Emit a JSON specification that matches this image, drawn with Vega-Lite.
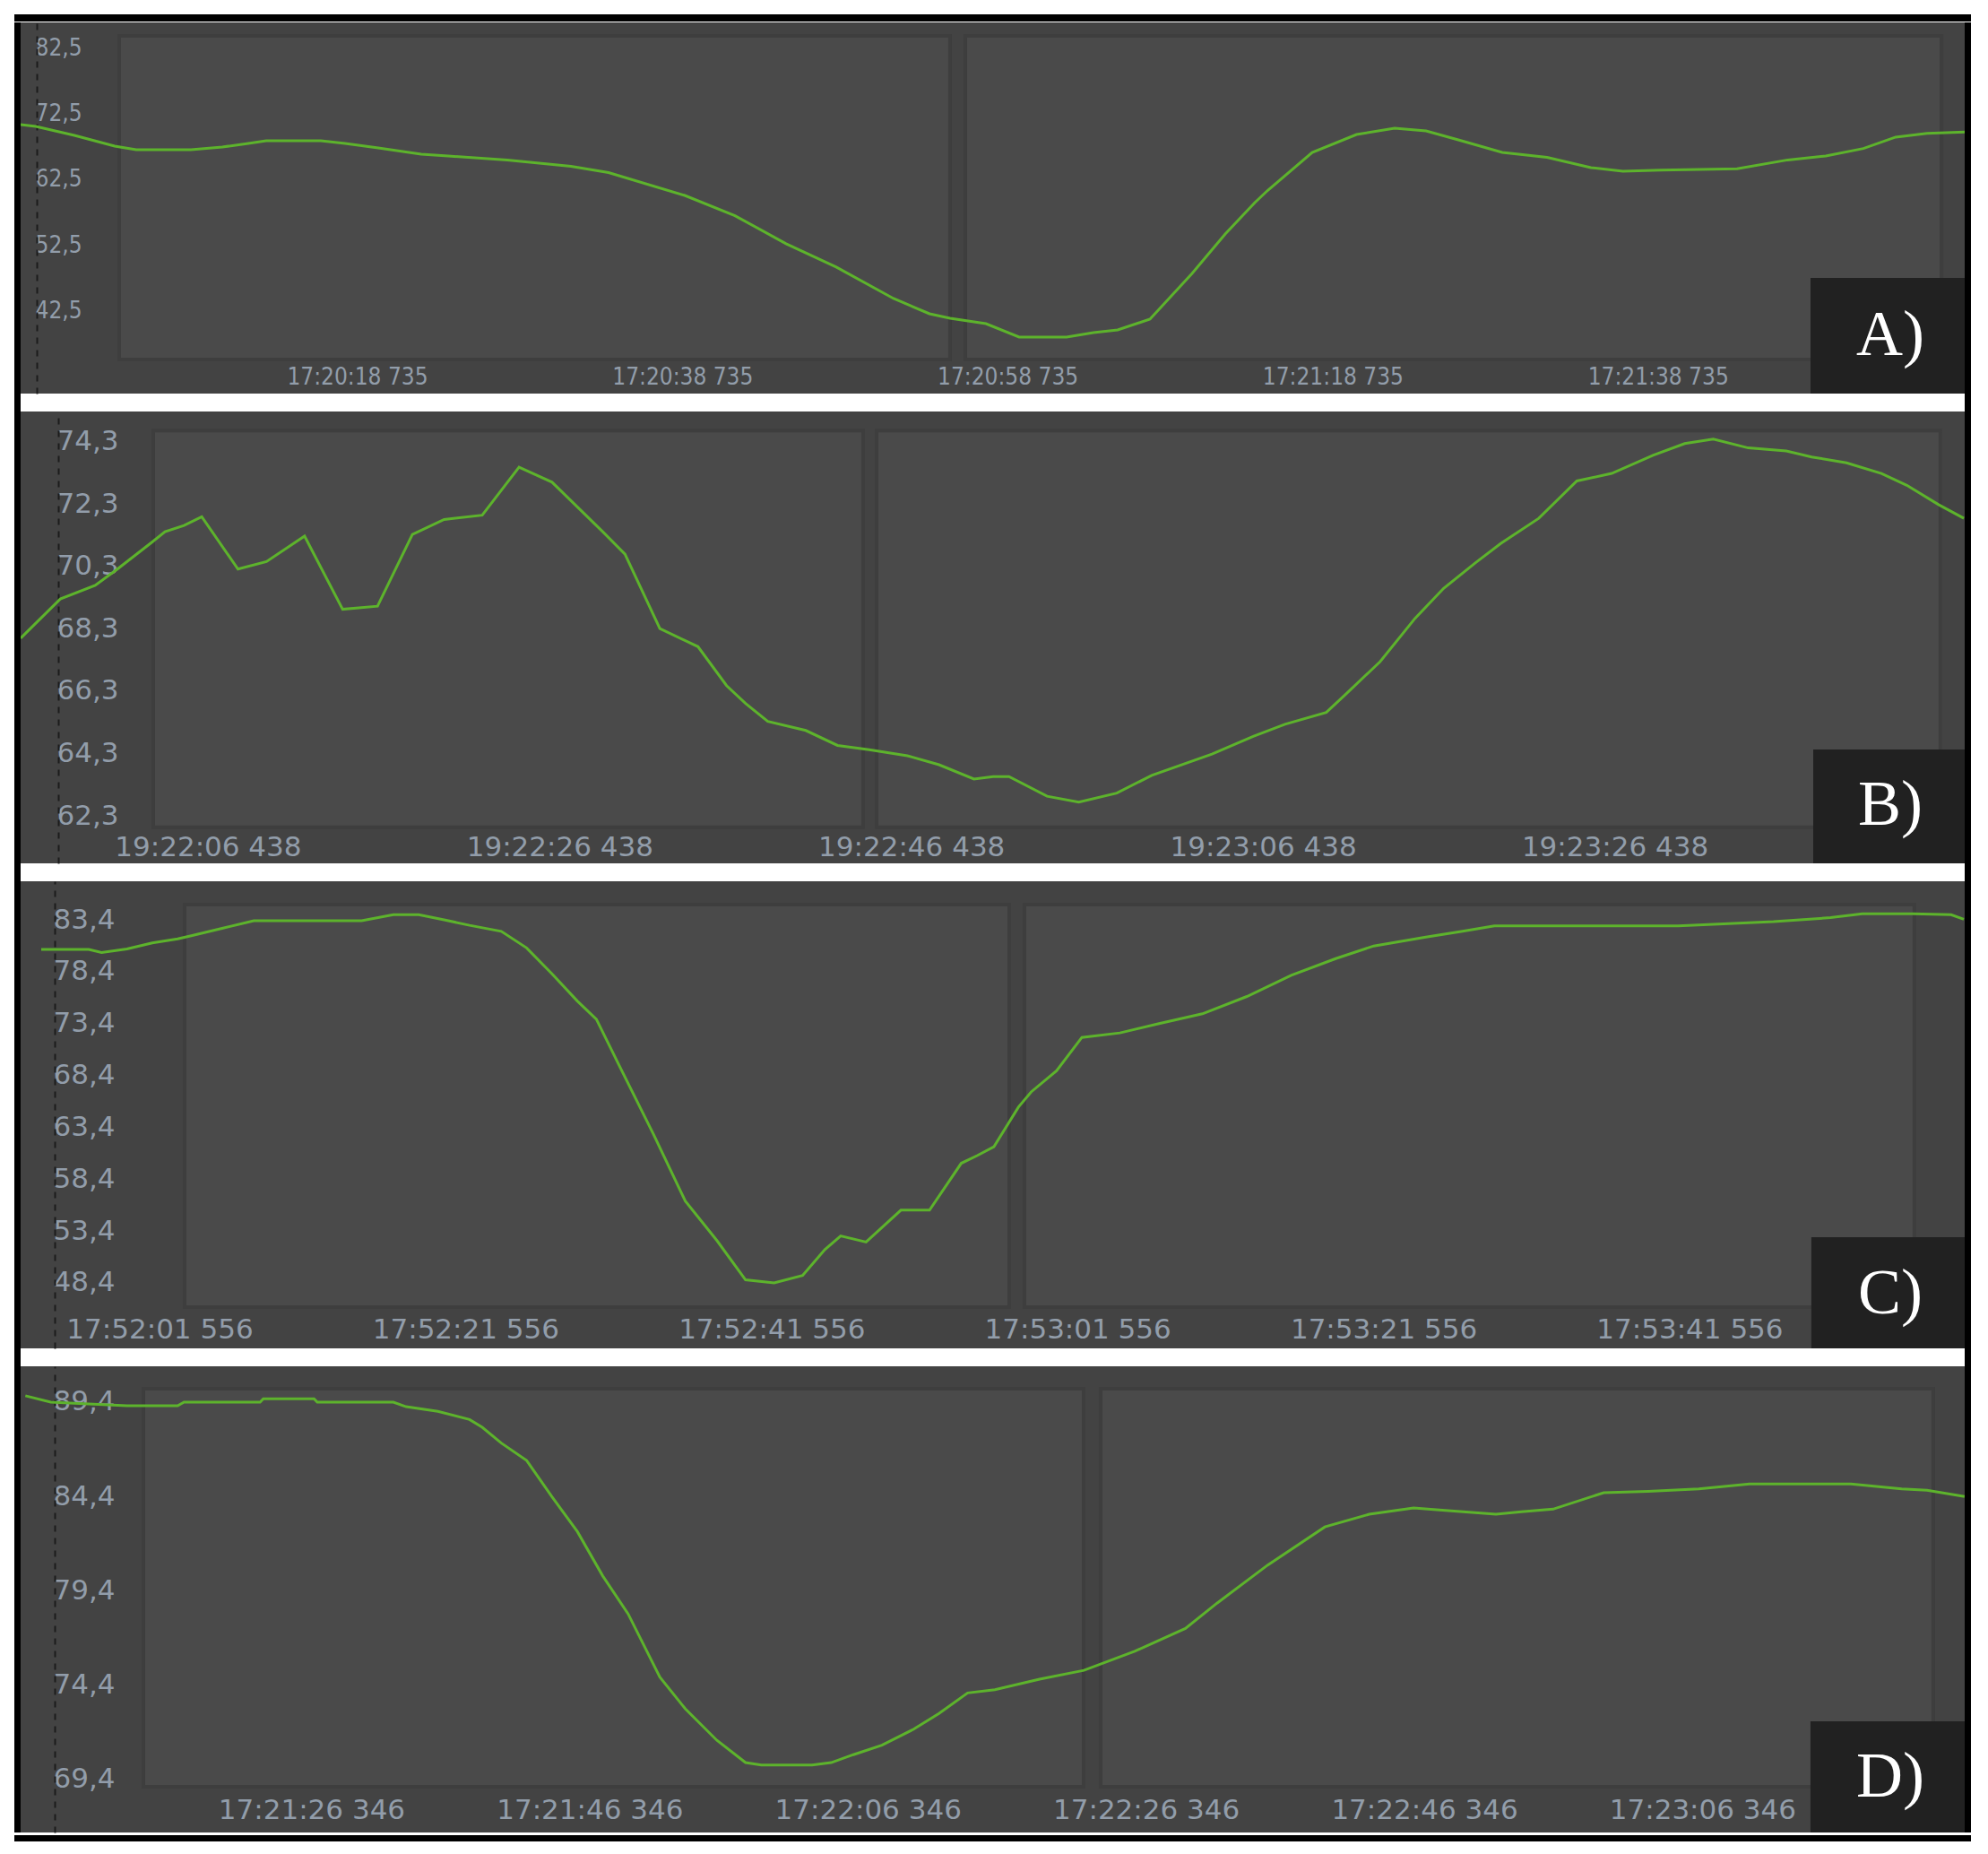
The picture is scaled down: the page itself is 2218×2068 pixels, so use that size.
{
  "$schema": "https://vega.github.io/schema/vega-lite/v6.json",
  "background": "white",
  "padding": {"left": 16, "top": 14, "right": 19, "bottom": 20},
  "spacing": 0,
  "config": {
    "view": {"stroke": null},
    "axis": {"grid": false, "ticks": false, "tickSize": 0, "domain": false, "labelOverlap": false, "labelFlush": false, "labelBound": false, "labelLimit": 0, "labelColor": "#929daa", "labelFont": "DejaVu Sans", "labelFontSize": 31},
    "axisLeft": {"labelAlign": "left", "labelBaseline": "middle", "labelPadding": 2, "domain": true, "domainColor": "#1c1c1c", "domainDash": [7, 7], "domainWidth": 2},
    "axisBottom": {"labelBaseline": "middle", "labelPadding": 0, "labelAngle": 0}
  },
  "datasets": {
    "A": [{"t":62398035,"v":70.8},{"t":62398972,"v":70.53},{"t":62401343,"v":69.17},{"t":62403823,"v":67.53},{"t":62405146,"v":66.99},{"t":62408509,"v":66.99},{"t":62410439,"v":67.4},{"t":62412037,"v":67.94},{"t":62413140,"v":68.35},{"t":62416502,"v":68.35},{"t":62417991,"v":67.94},{"t":62420031,"v":67.26},{"t":62422677,"v":66.31},{"t":62424330,"v":66.04},{"t":62427969,"v":65.44},{"t":62431883,"v":64.47},{"t":62434198,"v":63.52},{"t":62438884,"v":60.05},{"t":62441971,"v":56.98},{"t":62445113,"v":52.73},{"t":62448200,"v":49.17},{"t":62451728,"v":44.41},{"t":62453934,"v":42.09},{"t":62455201,"v":41.41},{"t":62456304,"v":41.0},{"t":62457407,"v":40.59},{"t":62459446,"v":38.56},{"t":62462368,"v":38.56},{"t":62464022,"v":39.24},{"t":62465510,"v":39.64},{"t":62467495,"v":41.28},{"t":62470086,"v":48.21},{"t":62472125,"v":54.2},{"t":62473944,"v":58.96},{"t":62474744,"v":60.83},{"t":62477473,"v":66.58},{"t":62480201,"v":69.3},{"t":62482544,"v":70.26},{"t":62484474,"v":69.85},{"t":62486458,"v":68.49},{"t":62489160,"v":66.58},{"t":62491916,"v":65.82},{"t":62494617,"v":64.27},{"t":62496580,"v":63.72},{"t":62498917,"v":63.9},{"t":62503603,"v":64.09},{"t":62506718,"v":65.44},{"t":62509060,"v":66.04},{"t":62511376,"v":67.17},{"t":62513360,"v":68.9},{"t":62515290,"v":69.48},{"t":62517605,"v":69.67}],
    "B": [{"t":69715790,"v":68.0},{"t":69718048,"v":69.26},{"t":69720031,"v":69.7},{"t":69721295,"v":70.22},{"t":69723277,"v":71.09},{"t":69724001,"v":71.42},{"t":69725082,"v":71.62},{"t":69726091,"v":71.9},{"t":69728150,"v":70.22},{"t":69729771,"v":70.46},{"t":69731937,"v":71.28},{"t":69734103,"v":68.93},{"t":69736086,"v":69.03},{"t":69738068,"v":71.33},{"t":69739873,"v":71.81},{"t":69742039,"v":71.95},{"t":69744133,"v":73.49},{"t":69746009,"v":73.01},{"t":69748894,"v":71.42},{"t":69750158,"v":70.7},{"t":69752141,"v":68.31},{"t":69754307,"v":67.73},{"t":69755933,"v":66.48},{"t":69757013,"v":65.91},{"t":69758277,"v":65.33},{"t":69760438,"v":65.04},{"t":69762243,"v":64.56},{"t":69764047,"v":64.42},{"t":69766213,"v":64.23},{"t":69768017,"v":63.94},{"t":69770000,"v":63.48},{"t":69771091,"v":63.56},{"t":69771993,"v":63.56},{"t":69774159,"v":62.93},{"t":69775963,"v":62.74},{"t":69778124,"v":63.03},{"t":69780112,"v":63.6},{"t":69783537,"v":64.28},{"t":69785882,"v":64.85},{"t":69787686,"v":65.24},{"t":69790036,"v":65.62},{"t":69791116,"v":66.19},{"t":69793099,"v":67.25},{"t":69795087,"v":68.64},{"t":69796708,"v":69.6},{"t":69798512,"v":70.42},{"t":69799954,"v":71.04},{"t":69802120,"v":71.85},{"t":69804287,"v":73.05},{"t":69806269,"v":73.29},{"t":69808614,"v":73.87},{"t":69810418,"v":74.25},{"t":69812044,"v":74.39},{"t":69814026,"v":74.11},{"t":69816192,"v":74.01},{"t":69817635,"v":73.82},{"t":69819618,"v":73.63},{"t":69821605,"v":73.29},{"t":69823048,"v":72.91},{"t":69824852,"v":72.29},{"t":69826294,"v":71.85}],
    "C": [{"t":64313823,"v":80.54},{"t":64316934,"v":80.54},{"t":64317766,"v":80.25},{"t":64319424,"v":80.59},{"t":64321082,"v":81.18},{"t":64322740,"v":81.56},{"t":64323571,"v":81.85},{"t":64325645,"v":82.58},{"t":64327719,"v":83.31},{"t":64334766,"v":83.31},{"t":64336840,"v":83.89},{"t":64338498,"v":83.89},{"t":64340156,"v":83.4},{"t":64341820,"v":82.87},{"t":64343894,"v":82.29},{"t":64345552,"v":80.69},{"t":64347209,"v":78.2},{"t":64348867,"v":75.57},{"t":64350109,"v":73.82},{"t":64351773,"v":68.84},{"t":64353847,"v":62.71},{"t":64355921,"v":56.29},{"t":64357989,"v":52.48},{"t":64359858,"v":48.69},{"t":64361726,"v":48.4},{"t":64363589,"v":49.12},{"t":64365042,"v":51.61},{"t":64366079,"v":52.92},{"t":64367737,"v":52.34},{"t":64370016,"v":55.41},{"t":64371884,"v":55.41},{"t":64373958,"v":59.93},{"t":64374995,"v":60.67},{"t":64376096,"v":61.53},{"t":64377696,"v":65.35},{"t":64378527,"v":66.81},{"t":64380185,"v":68.84},{"t":64381843,"v":72.06},{"t":64384333,"v":72.5},{"t":64386823,"v":73.37},{"t":64389723,"v":74.34},{"t":64392628,"v":76.01},{"t":64395528,"v":78.05},{"t":64398434,"v":79.66},{"t":64400918,"v":80.88},{"t":64404239,"v":81.71},{"t":64406723,"v":82.29},{"t":64408803,"v":82.81},{"t":64420824,"v":82.81},{"t":64427045,"v":83.23},{"t":64430777,"v":83.61},{"t":64432851,"v":83.99},{"t":64436172,"v":83.99},{"t":64438656,"v":83.89},{"t":64439488,"v":83.46}],
    "D": [{"t":62465781,"v":89.74},{"t":62467605,"v":89.4},{"t":62473082,"v":89.21},{"t":62476729,"v":89.21},{"t":62477186,"v":89.4},{"t":62482656,"v":89.4},{"t":62482888,"v":89.58},{"t":62486535,"v":89.58},{"t":62486767,"v":89.4},{"t":62492238,"v":89.4},{"t":62493153,"v":89.16},{"t":62495434,"v":88.91},{"t":62497715,"v":88.48},{"t":62498623,"v":88.07},{"t":62499996,"v":87.23},{"t":62501819,"v":86.31},{"t":62503643,"v":84.38},{"t":62505466,"v":82.54},{"t":62507289,"v":80.19},{"t":62509113,"v":78.18},{"t":62511394,"v":74.83},{"t":62513224,"v":73.15},{"t":62515498,"v":71.48},{"t":62517553,"v":70.3},{"t":62518694,"v":70.17},{"t":62522340,"v":70.17},{"t":62523713,"v":70.3},{"t":62525305,"v":70.72},{"t":62527360,"v":71.22},{"t":62529641,"v":72.07},{"t":62531464,"v":72.9},{"t":62533520,"v":73.99},{"t":62535479,"v":74.16},{"t":62538694,"v":74.72},{"t":62541883,"v":75.19},{"t":62545530,"v":76.2},{"t":62549177,"v":77.41},{"t":62551452,"v":78.75},{"t":62555099,"v":80.77},{"t":62559203,"v":82.79},{"t":62562392,"v":83.46},{"t":62565582,"v":83.79},{"t":62567856,"v":83.66},{"t":62571503,"v":83.46},{"t":62573327,"v":83.59},{"t":62575608,"v":83.73},{"t":62579248,"v":84.6},{"t":62582444,"v":84.67},{"t":62586084,"v":84.8},{"t":62589731,"v":85.07},{"t":62597025,"v":85.07},{"t":62600672,"v":84.8},{"t":62602489,"v":84.73},{"t":62605195,"v":84.4}]
  },
  "vconcat": [
    {"width": 2183, "height": 8, "view": {"fill": "black", "stroke": null}, "data": {"values": [{}]}, "mark": {"type": "text", "text": ""}},
    {
      "spacing": 0,
      "hconcat": [
        {"width": 7, "height": 2019, "view": {"fill": "black", "stroke": null}, "data": {"values": [{}]}, "mark": {"type": "text", "text": ""}},
        {
          "spacing": 20,
          "resolve": {"scale": {"x": "independent", "y": "independent"}},
          "vconcat": [
            {
              "width": 2169, "height": 414,
              "view": {"fill": "#434343", "stroke": null},
              "layer": [
                {"data": {"values": [{}]}, "mark": {"type": "rect", "fill": "#4a4a4a", "stroke": "#3e3e3e", "strokeWidth": 4},
                 "encoding": {"x": {"datum": 62404099, "type": "temporal", "scale": {"type": "utc", "domain": [62398035, 62517605]}}, "x2": {"datum": 62455201},
                              "y": {"datum": 84.27, "type": "quantitative", "scale": {"domain": [29.98, 86.31], "zero": false, "nice": false}}, "y2": {"datum": 35.15}}},
                {"data": {"values": [{}]}, "mark": {"type": "rect", "fill": "#4a4a4a", "stroke": "#3e3e3e", "strokeWidth": 4},
                 "encoding": {"x": {"datum": 62456138, "type": "temporal", "scale": {"type": "utc", "domain": [62398035, 62517605]}}, "x2": {"datum": 62516172},
                              "y": {"datum": 84.27, "type": "quantitative", "scale": {"domain": [29.98, 86.31], "zero": false, "nice": false}}, "y2": {"datum": 35.15}}},
                {"data": {"name": "A"}, "mark": {"type": "line", "color": "#5db32c", "strokeWidth": 3, "clip": true},
                 "encoding": {
                   "x": {"field": "t", "type": "temporal", "scale": {"type": "utc", "domain": [62398035, 62517605]},
                         "axis": {"orient": "bottom", "offset": -19, "title": null, "values": [62418735, 62438735, 62458735, 62478735, 62498735], "format": "%H:%M:%S %L", "labelFont": "DejaVu Sans Condensed, Liberation Sans Narrow, DejaVu Sans", "labelFontSize": 26}},
                   "y": {"field": "v", "type": "quantitative", "scale": {"domain": [29.98, 86.31], "zero": false, "nice": false},
                         "axis": {"orient": "left", "offset": -18, "title": null, "values": [42.5, 52.5, 62.5, 72.5, 82.5], "labelExpr": "replace(format(datum.value, '.1f'), '.', ',')", "labelFont": "DejaVu Sans Condensed, Liberation Sans Narrow, DejaVu Sans", "labelFontSize": 26}}}},
                {"data": {"values": [{}]}, "mark": {"type": "rect", "fill": "#212121"},
                 "encoding": {"x": {"datum": 62508123, "type": "temporal", "scale": {"type": "utc", "domain": [62398035, 62517605]}}, "x2": {"datum": 62517605},
                              "y": {"datum": 47.53, "type": "quantitative", "scale": {"domain": [29.98, 86.31], "zero": false, "nice": false}}, "y2": {"datum": 29.98}}},
                {"data": {"values": [{}]}, "mark": {"type": "text", "text": "A)", "font": "Liberation Serif", "fontSize": 72, "color": "white", "align": "center", "baseline": "alphabetic"},
                 "encoding": {"x": {"datum": 62513029, "type": "temporal", "scale": {"type": "utc", "domain": [62398035, 62517605]}},
                              "y": {"datum": 35.83, "type": "quantitative", "scale": {"domain": [29.98, 86.31], "zero": false, "nice": false}}}}
              ]
            },
            {
              "width": 2169, "height": 504,
              "view": {"fill": "#434343", "stroke": null},
              "layer": [
                {"data": {"values": [{}]}, "mark": {"type": "rect", "fill": "#4a4a4a", "stroke": "#3e3e3e", "strokeWidth": 4},
                 "encoding": {"x": {"datum": 69723333, "type": "temporal", "scale": {"type": "utc", "domain": [69715790, 69826340]}}, "x2": {"datum": 69763700},
                              "y": {"datum": 74.67, "type": "quantitative", "scale": {"domain": [60.775, 75.278], "zero": false, "nice": false}}, "y2": {"datum": 61.93}}},
                {"data": {"values": [{}]}, "mark": {"type": "rect", "fill": "#4a4a4a", "stroke": "#3e3e3e", "strokeWidth": 4},
                 "encoding": {"x": {"datum": 69764465, "type": "temporal", "scale": {"type": "utc", "domain": [69715790, 69826340]}}, "x2": {"datum": 69824954},
                              "y": {"datum": 74.67, "type": "quantitative", "scale": {"domain": [60.775, 75.278], "zero": false, "nice": false}}, "y2": {"datum": 61.93}}},
                {"data": {"name": "B"}, "mark": {"type": "line", "color": "#5db32c", "strokeWidth": 3, "clip": true},
                 "encoding": {
                   "x": {"field": "t", "type": "temporal", "scale": {"type": "utc", "domain": [69715790, 69826340]},
                         "axis": {"orient": "bottom", "offset": -18, "title": null, "values": [69726438, 69746438, 69766438, 69786438, 69806438], "format": "%H:%M:%S %L"}},
                   "y": {"field": "v", "type": "quantitative", "scale": {"domain": [60.775, 75.278], "zero": false, "nice": false},
                         "axis": {"orient": "left", "offset": -42, "title": null, "values": [62.3, 64.3, 66.3, 68.3, 70.3, 72.3, 74.3], "labelExpr": "replace(format(datum.value, '.1f'), '.', ',')"}}}},
                {"data": {"values": [{}]}, "mark": {"type": "rect", "fill": "#212121"},
                 "encoding": {"x": {"datum": 69817727, "type": "temporal", "scale": {"type": "utc", "domain": [69715790, 69826340]}}, "x2": {"datum": 69826340},
                              "y": {"datum": 64.43, "type": "quantitative", "scale": {"domain": [60.775, 75.278], "zero": false, "nice": false}}, "y2": {"datum": 60.775}}},
                {"data": {"values": [{}]}, "mark": {"type": "text", "text": "B)", "font": "Liberation Serif", "fontSize": 72, "color": "white", "align": "center", "baseline": "alphabetic"},
                 "encoding": {"x": {"datum": 69822110, "type": "temporal", "scale": {"type": "utc", "domain": [69715790, 69826340]}},
                              "y": {"datum": 62.01, "type": "quantitative", "scale": {"domain": [60.775, 75.278], "zero": false, "nice": false}}}}
              ]
            },
            {
              "width": 2169, "height": 521,
              "view": {"fill": "#434343", "stroke": null},
              "layer": [
                {"data": {"values": [{}]}, "mark": {"type": "rect", "fill": "#4a4a4a", "stroke": "#3e3e3e", "strokeWidth": 4},
                 "encoding": {"x": {"datum": 64323197, "type": "temporal", "scale": {"type": "utc", "domain": [64312476, 64439546]}}, "x2": {"datum": 64377093},
                              "y": {"datum": 84.87, "type": "quantitative", "scale": {"domain": [42.086, 87.117], "zero": false, "nice": false}}, "y2": {"datum": 46.06}}},
                {"data": {"values": [{}]}, "mark": {"type": "rect", "fill": "#4a4a4a", "stroke": "#3e3e3e", "strokeWidth": 4},
                 "encoding": {"x": {"datum": 64378088, "type": "temporal", "scale": {"type": "utc", "domain": [64312476, 64439546]}}, "x2": {"datum": 64436260},
                              "y": {"datum": 84.87, "type": "quantitative", "scale": {"domain": [42.086, 87.117], "zero": false, "nice": false}}, "y2": {"datum": 46.06}}},
                {"data": {"name": "C"}, "mark": {"type": "line", "color": "#5db32c", "strokeWidth": 3, "clip": true},
                 "encoding": {
                   "x": {"field": "t", "type": "temporal", "scale": {"type": "utc", "domain": [64312476, 64439546]},
                         "axis": {"orient": "bottom", "offset": -21, "title": null, "values": [64321556, 64341556, 64361556, 64381556, 64401556, 64421556], "format": "%H:%M:%S %L"}},
                   "y": {"field": "v", "type": "quantitative", "scale": {"domain": [42.086, 87.117], "zero": false, "nice": false},
                         "axis": {"orient": "left", "offset": -38, "title": null, "values": [48.4, 53.4, 58.4, 63.4, 68.4, 73.4, 78.4, 83.4], "labelExpr": "replace(format(datum.value, '.1f'), '.', ',')"}}}},
                {"data": {"values": [{}]}, "mark": {"type": "rect", "fill": "#212121"},
                 "encoding": {"x": {"datum": 64429523, "type": "temporal", "scale": {"type": "utc", "domain": [64312476, 64439546]}}, "x2": {"datum": 64439546},
                              "y": {"datum": 52.8, "type": "quantitative", "scale": {"domain": [42.086, 87.117], "zero": false, "nice": false}}, "y2": {"datum": 42.086}}},
                {"data": {"values": [{}]}, "mark": {"type": "text", "text": "C)", "font": "Liberation Serif", "fontSize": 72, "color": "white", "align": "center", "baseline": "alphabetic"},
                 "encoding": {"x": {"datum": 64434679, "type": "temporal", "scale": {"type": "utc", "domain": [64312476, 64439546]}},
                              "y": {"datum": 45.46, "type": "quantitative", "scale": {"domain": [42.086, 87.117], "zero": false, "nice": false}}}}
              ]
            },
            {
              "width": 2169, "height": 520,
              "view": {"fill": "#434343", "stroke": null},
              "layer": [
                {"data": {"values": [{}]}, "mark": {"type": "rect", "fill": "#4a4a4a", "stroke": "#3e3e3e", "strokeWidth": 4},
                 "encoding": {"x": {"datum": 62474267, "type": "temporal", "scale": {"type": "utc", "domain": [62465440, 62605200]}}, "x2": {"datum": 62541858},
                              "y": {"datum": 90.11, "type": "quantitative", "scale": {"domain": [66.597, 91.3], "zero": false, "nice": false}}, "y2": {"datum": 69.02}}},
                {"data": {"values": [{}]}, "mark": {"type": "rect", "fill": "#4a4a4a", "stroke": "#3e3e3e", "strokeWidth": 4},
                 "encoding": {"x": {"datum": 62543082, "type": "temporal", "scale": {"type": "utc", "domain": [62465440, 62605200]}}, "x2": {"datum": 62602940},
                              "y": {"datum": 90.11, "type": "quantitative", "scale": {"domain": [66.597, 91.3], "zero": false, "nice": false}}, "y2": {"datum": 69.02}}},
                {"data": {"name": "D"}, "mark": {"type": "line", "color": "#5db32c", "strokeWidth": 3, "clip": true},
                 "encoding": {
                   "x": {"field": "t", "type": "temporal", "scale": {"type": "utc", "domain": [62465440, 62605200]},
                         "axis": {"orient": "bottom", "offset": -25, "title": null, "values": [62486346, 62506346, 62526346, 62546346, 62566346, 62586346], "format": "%H:%M:%S %L"}},
                   "y": {"field": "v", "type": "quantitative", "scale": {"domain": [66.597, 91.3], "zero": false, "nice": false},
                         "axis": {"orient": "left", "offset": -38, "title": null, "values": [69.4, 74.4, 79.4, 84.4, 89.4], "labelExpr": "replace(format(datum.value, '.1f'), '.', ',')"}}}},
                {"data": {"values": [{}]}, "mark": {"type": "rect", "fill": "#212121"},
                 "encoding": {"x": {"datum": 62594113, "type": "temporal", "scale": {"type": "utc", "domain": [62465440, 62605200]}}, "x2": {"datum": 62605200},
                              "y": {"datum": 72.49, "type": "quantitative", "scale": {"domain": [66.597, 91.3], "zero": false, "nice": false}}, "y2": {"datum": 66.597}}},
                {"data": {"values": [{}]}, "mark": {"type": "text", "text": "D)", "font": "Liberation Serif", "fontSize": 72, "color": "white", "align": "center", "baseline": "alphabetic"},
                 "encoding": {"x": {"datum": 62599847, "type": "temporal", "scale": {"type": "utc", "domain": [62465440, 62605200]}},
                              "y": {"datum": 68.5, "type": "quantitative", "scale": {"domain": [66.597, 91.3], "zero": false, "nice": false}}}}
              ]
            }
          ]
        },
        {"width": 7, "height": 2019, "view": {"fill": "black", "stroke": null}, "data": {"values": [{}]}, "mark": {"type": "text", "text": ""}}
      ]
    },
    {"width": 2183, "height": 7, "view": {"fill": "black", "stroke": null}, "data": {"values": [{}]}, "mark": {"type": "text", "text": ""}}
  ]
}
